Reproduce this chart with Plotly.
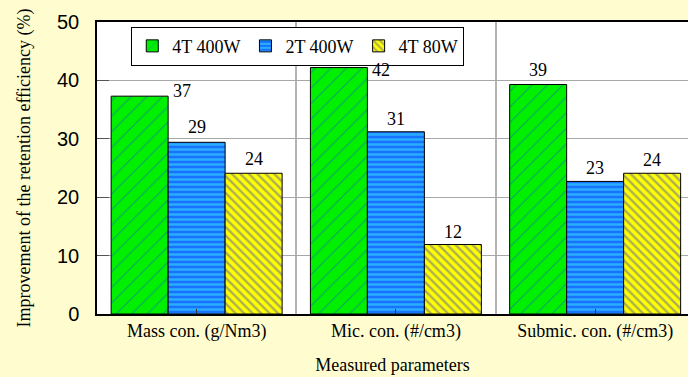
import plotly.graph_objects as go

# Categories and measured improvements (%)
categories = ["Mass con. (g/Nm3)", "Mic. con. (#/cm3)", "Submic. con. (#/cm3)"]
series_names = ["4T 400W", "2T 400W", "4T 80W"]
values_4t400 = [37.3, 42.2, 39.3]
values_2t400 = [29.4, 31.2, 22.7]
values_4t80 = [24.1, 11.9, 24.1]
y_ticks = [0, 10, 20, 30, 40, 50]

series_values = [values_4t400, values_2t400, values_4t80]

# Fill styles per series
styles = [
    dict(bg="#00F000", fg="#2646D8", shape="/", size=11, solidity=0.09),
    dict(bg="#1672FF", fg="#3CE8FF", shape="-", size=5, solidity=0.5),
    dict(bg="#FFFF00", fg="#5A5CA8", shape="\\", size=6, solidity=0.4),
]
# Where each value label sits: ("side", yshift) = right of the bar top,
# ("top", yshift) = centred above the bar
label_place = [
    [("side", 5), ("side", -2), ("top", 2)],
    [("top", 3), ("top", 1), ("top", 1)],
    [("top", 2), ("top", 1), ("top", 1)],
]

serif = "'Liberation Serif', 'Times New Roman', Times, serif"
sans = "'Liberation Sans', Arial, sans-serif"

x_pos = list(range(len(categories)))
bargap = 0.142
bar_w = (1 - bargap) / len(series_values)

fig = go.Figure()
for name, vals, st in zip(series_names, series_values, styles):
    fig.add_trace(go.Bar(
        x=x_pos, y=vals, name=name,
        marker=dict(
            color=st["bg"],
            line=dict(color="black", width=1),
            pattern=dict(shape=st["shape"], fgcolor=st["fg"], bgcolor=st["bg"],
                         size=st["size"], solidity=st["solidity"]),
        ),
    ))

# Value labels, positioned from the same data values
for si, vals in enumerate(series_values):
    offset = (si - (len(series_values) - 1) / 2) * bar_w
    for ci, v in enumerate(vals):
        place, dy = label_place[si][ci]
        if place == "side":
            fig.add_annotation(x=x_pos[ci] + offset + bar_w / 2, y=v, text=f"{v:.0f}",
                               xanchor="left", yanchor="middle", xshift=3, yshift=dy,
                               showarrow=False, font=dict(family=serif, size=18, color="black"))
        else:
            fig.add_annotation(x=x_pos[ci] + offset, y=v, text=f"{v:.0f}",
                               xanchor="center", yanchor="bottom", yshift=dy,
                               showarrow=False, font=dict(family=serif, size=18, color="black"))

fig.update_layout(
    width=688, height=377,
    margin=dict(l=97, r=0, t=22, b=63),
    font=dict(family=serif, size=18, color="black"),
    paper_bgcolor="#FFFDCF",
    plot_bgcolor="white",
    barmode="group", bargap=bargap, bargroupgap=0,
    showlegend=True,
    legend=dict(
        orientation="h", x=0.058, y=0.984, xanchor="left", yanchor="top",
        bgcolor="white", bordercolor="black", borderwidth=1,
        font=dict(family=serif, size=18, color="black"),
        itemwidth=30, tracegroupgap=0,
    ),
    xaxis=dict(
        range=[-0.5, 2.466],
        tickvals=x_pos, ticktext=categories,
        tickfont=dict(family=serif, size=18, color="black"),
        ticks="inside", ticklen=5, tickcolor="#333333",
        showline=True, linecolor="black", linewidth=1.5, mirror=True,
        showgrid=False, zeroline=False,
        minor=dict(tickvals=[0.5, 1.5], showgrid=True, gridcolor="#B4B4B4",
                   gridwidth=1.5, ticks=""),
        title=dict(text="Measured parameters", standoff=17,
                   font=dict(family=serif, size=18, color="black")),
    ),
    yaxis=dict(
        range=[0, 50], tickvals=y_ticks,
        tickfont=dict(family=sans, size=20, color="black"),
        ticks="inside", ticklen=12, tickcolor="#555555", ticklabelstandoff=12,
        showline=True, linecolor="black", linewidth=1.5,
        showgrid=True, gridcolor="#A8A8A8", gridwidth=1,
        zeroline=False,
        title=dict(text="Improvement of the retention efficiency (%)", standoff=22,
                   font=dict(family=serif, size=18, color="black")),
    ),
)

fig.write_html("out.html")
